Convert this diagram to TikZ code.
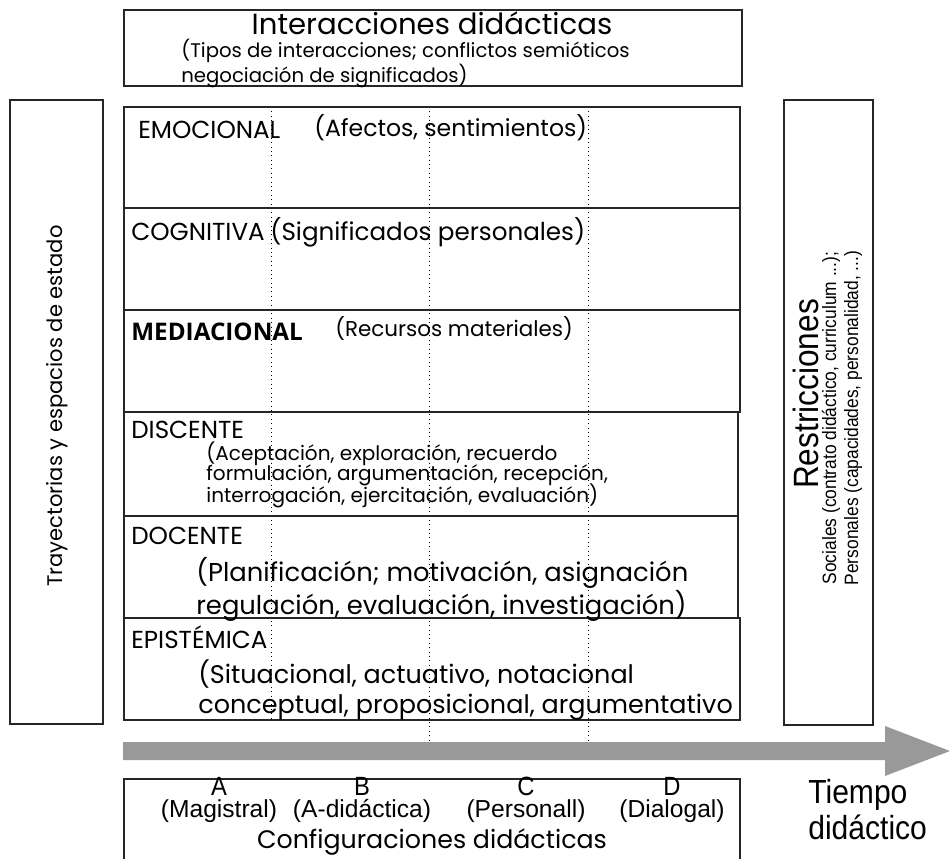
\documentclass[tikz,border=0pt]{standalone}
\usepackage{fontspec}
\setmainfont{Poppins}
\newfontfamily\narrowfont[FakeStretch=0.9]{Liberation Sans}
\newfontfamily\plainfont{Liberation Sans}
\newfontfamily\boldfont{Open Sans}
\definecolor{flecha}{RGB}{153,153,153}
\tikzset{
  caja/.style={draw=black!85,line width=0.9pt},
  rotulo/.style={anchor=west,inner sep=0pt,font=\fontsize{14}{16}\selectfont},
  detalle/.style={anchor=north west,inner sep=0pt,align=left,font=\fontsize{14.5}{17}\selectfont},
  angosto/.style={inner sep=0pt,font=\narrowfont\fontsize{17}{18}\selectfont}
}

\begin{document}
\begin{tikzpicture}[x=0.02cm,y=-0.02cm]
\useasboundingbox (0,0) rectangle (950,859);
% lineas de tiempo
\foreach \x/\yb in {271/720,429/745,588/745}
\draw[dotted,line width=0.5pt] (\x,107) -- (\x,\yb);
% dimensiones
\foreach \yt/\yb/\xr in {107/208/740,208/310/740,310/412/740,412/516/738,516/618/738,618/720/740}
\draw[caja] (124,\yt) rectangle (\xr,\yb);
\draw[caja] (124,10) rectangle (742,86);
\draw[caja] (10,100) rectangle (103,724);
\draw[caja] (784,100) rectangle (873,725);
\draw[caja] (124,859) |- (740,779) -- (740,859);
% flecha del tiempo
\fill[flecha] (123,742) -- (885,742) -- (885,726) -- (950,751) -- (885,776) -- (885,760) -- (123,760) -- cycle;

\node[inner sep=0pt,font=\fontsize{16.6}{18}\selectfont] (inter) at (432,23) {Interacciones didácticas};
\node[detalle,font=\fontsize{11.2}{12.6}\selectfont] (tipos) at (181,39) {(Tipos de interacciones; conflictos semióticos\\negociación de significados)};

\node[rotulo] (emo) at (138,130) {EMOCIONAL};
\node[rotulo,font=\fontsize{13.4}{15}\selectfont] (afec) at (314,128) {(Afectos, sentimientos)};
\node[rotulo] (cog) at (131,232) {COGNITIVA};
\node[rotulo,font=\fontsize{14}{15}\selectfont] (sig) at (270,232) {(Significados personales)};
\node[rotulo,font=\boldfont\bfseries\fontsize{13.8}{16}\selectfont] (med) at (131,332) {MEDIACIONAL};
\node[rotulo,font=\fontsize{12.2}{15}\selectfont] (rec) at (335,328) {(Recursos materiales)};
\node[rotulo] (dis) at (131,430) {DISCENTE};
\foreach \t [count=\i] in {{(Aceptación, exploración, recuerdo},{formulación, argumentación, recepción,},{interrogación, ejercitación, evaluación)}}
\node[rotulo,font=\fontsize{11.4}{12}\selectfont] (disd\i) at (206,433+21*\i) {\t};
\node[rotulo] (doc) at (131,536) {DOCENTE};
\node[detalle,font=\fontsize{14.7}{16}\selectfont] (docd) at (196,557) {(Planificación; motivación, asignación\\regulación, evaluación, investigación)};
\node[rotulo] (epi) at (131,637) {EPISTÉMICA};
\node[detalle] (epid) at (198,659) {(Situacional, actuativo, notacional\\conceptual, proposicional, argumentativo};

\node[inner sep=0pt,rotate=90,font=\fontsize{12}{14}\selectfont] (tray) at (57,406) {Trayectorias y espacios de estado};
\node[angosto,rotate=90,font=\narrowfont\fontsize{20}{22}\selectfont] (restr) at (806,394) {Restricciones};
\node[angosto,rotate=90,font=\narrowfont\fontsize{11}{12}\selectfont] (soc) at (831,418) {Sociales (contrato didáctico, curriculum ...);};
\node[angosto,rotate=90,font=\narrowfont\fontsize{11}{12}\selectfont] (per) at (853,418) {Personales (capacidades, personalidad, ...)};

\foreach \x/\l/\t in {219/A/Magistral,362/B/A-didáctica,526/C/Personall,672/D/Dialogal}{
\node[angosto,font=\narrowfont\fontsize{15}{16}\selectfont] (l\l) at (\x,786) {\l};
\node[angosto,font=\plainfont\fontsize{14}{15}\selectfont] (c\l) at (\x,811) {(\t)};
}
\node[inner sep=0pt,font=\fontsize{14.4}{16}\selectfont] (conf) at (432,842) {Configuraciones didácticas};
\node[angosto,anchor=north west,align=left,font=\narrowfont\fontsize{19}{20.5}\selectfont] (tiempo) at (808,779) {Tiempo\\didáctico};
\end{tikzpicture}
\end{document}
